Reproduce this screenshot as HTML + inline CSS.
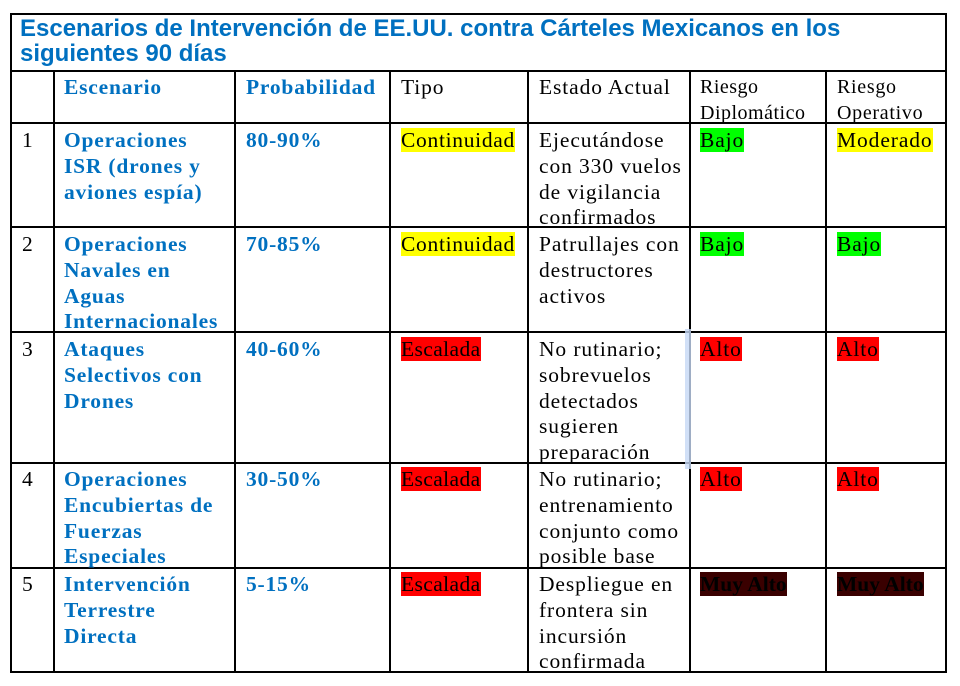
<!DOCTYPE html>
<html><head><meta charset="utf-8"><style>
body{margin:0;width:960px;height:686px;background:#fff;position:relative;overflow:hidden;font-family:"Liberation Serif",serif;}
.h{position:absolute;background:#000;height:2px}
.v{position:absolute;background:#000;width:2px}
.t{position:absolute;font-size:21.5px;line-height:25.8px;color:#000;white-space:nowrap;letter-spacing:0.9px}
.b{color:#0070c0;font-weight:bold;letter-spacing:0.8px}
.title{position:absolute;left:20px;top:16px;font-family:"Liberation Sans",sans-serif;font-weight:bold;font-size:24px;line-height:25px;color:#0070c0}
.y{background:#ffff00}.g{background:#00ff00}.r{background:#ff0000}.d{background:#3a0000;font-weight:bold;letter-spacing:0}
</style></head><body>
<div class="h" style="left:10px;top:13px;width:937px"></div>
<div class="h" style="left:10px;top:70px;width:937px"></div>
<div class="h" style="left:10px;top:122px;width:937px"></div>
<div class="h" style="left:10px;top:226px;width:937px"></div>
<div class="h" style="left:10px;top:331px;width:937px"></div>
<div class="h" style="left:10px;top:462px;width:937px"></div>
<div class="h" style="left:10px;top:567px;width:937px"></div>
<div class="h" style="left:10px;top:671px;width:937px"></div>
<div class="v" style="left:10px;top:13px;height:660px"></div>
<div class="v" style="left:945px;top:13px;height:660px"></div>
<div class="v" style="left:53px;top:70px;height:603px"></div>
<div class="v" style="left:234px;top:70px;height:603px"></div>
<div class="v" style="left:389px;top:70px;height:603px"></div>
<div class="v" style="left:527px;top:70px;height:603px"></div>
<div class="v" style="left:689px;top:70px;height:603px"></div>
<div class="v" style="left:825px;top:70px;height:603px"></div>
<div style="position:absolute;left:685px;top:329px;width:6px;height:140px;background:#c5d8f5;opacity:.8"></div>
<div class="title">Escenarios de Intervención de EE.UU. contra Cárteles Mexicanos en los<br>siguientes 90 días</div>

<div class="t b" style="left:64px;top:75px">Escenario</div>
<div class="t b" style="left:246px;top:75px">Probabilidad</div>
<div class="t" style="left:401px;top:75px">Tipo</div>
<div class="t" style="left:539px;top:75px">Estado Actual</div>
<div class="t" style="left:700px;top:75px;font-size:20px;letter-spacing:0.5px">Riesgo<br>Diplomático</div>
<div class="t" style="left:837px;top:75px;font-size:20px;letter-spacing:0.7px">Riesgo<br>Operativo</div>

<div class="t" style="left:22px;top:128px">1</div>
<div class="t b" style="left:64px;top:128px">Operaciones<br>ISR (drones y<br>aviones espía)</div>
<div class="t b" style="left:246px;top:128px">80-90%</div>
<div class="t" style="left:401px;top:128px;letter-spacing:0.7px"><span class="y">Continuidad</span></div>
<div class="t" style="left:539px;top:128px">Ejecutándose<br>con 330 vuelos<br>de vigilancia<br>confirmados</div>
<div class="t" style="left:700px;top:128px"><span class="g">Bajo</span></div>
<div class="t" style="left:837px;top:128px"><span class="y">Moderado</span></div>

<div class="t" style="left:22px;top:232px">2</div>
<div class="t b" style="left:64px;top:232px">Operaciones<br>Navales en<br>Aguas<br>Internacionales</div>
<div class="t b" style="left:246px;top:232px">70-85%</div>
<div class="t" style="left:401px;top:232px;letter-spacing:0.7px"><span class="y">Continuidad</span></div>
<div class="t" style="left:539px;top:232px">Patrullajes con<br>destructores<br>activos</div>
<div class="t" style="left:700px;top:232px"><span class="g">Bajo</span></div>
<div class="t" style="left:837px;top:232px"><span class="g">Bajo</span></div>

<div class="t" style="left:22px;top:337px">3</div>
<div class="t b" style="left:64px;top:337px">Ataques<br>Selectivos con<br>Drones</div>
<div class="t b" style="left:246px;top:337px">40-60%</div>
<div class="t" style="left:401px;top:337px;letter-spacing:0.4px"><span class="r">Escalada</span></div>
<div class="t" style="left:539px;top:337px">No rutinario;<br>sobrevuelos<br>detectados<br>sugieren<br>preparación</div>
<div class="t" style="left:700px;top:337px"><span class="r">Alto</span></div>
<div class="t" style="left:837px;top:337px"><span class="r">Alto</span></div>

<div class="t" style="left:22px;top:467px">4</div>
<div class="t b" style="left:64px;top:467px">Operaciones<br>Encubiertas de<br>Fuerzas<br>Especiales</div>
<div class="t b" style="left:246px;top:467px">30-50%</div>
<div class="t" style="left:401px;top:467px;letter-spacing:0.4px"><span class="r">Escalada</span></div>
<div class="t" style="left:539px;top:467px">No rutinario;<br>entrenamiento<br>conjunto como<br>posible base</div>
<div class="t" style="left:700px;top:467px"><span class="r">Alto</span></div>
<div class="t" style="left:837px;top:467px"><span class="r">Alto</span></div>

<div class="t" style="left:22px;top:572px">5</div>
<div class="t b" style="left:64px;top:572px">Intervención<br>Terrestre<br>Directa</div>
<div class="t b" style="left:246px;top:572px">5-15%</div>
<div class="t" style="left:401px;top:572px;letter-spacing:0.4px"><span class="r">Escalada</span></div>
<div class="t" style="left:539px;top:572px">Despliegue en<br>frontera sin<br>incursión<br>confirmada</div>
<div class="t" style="left:700px;top:572px"><span class="d">Muy Alto</span></div>
<div class="t" style="left:837px;top:572px"><span class="d">Muy Alto</span></div>
</body></html>
